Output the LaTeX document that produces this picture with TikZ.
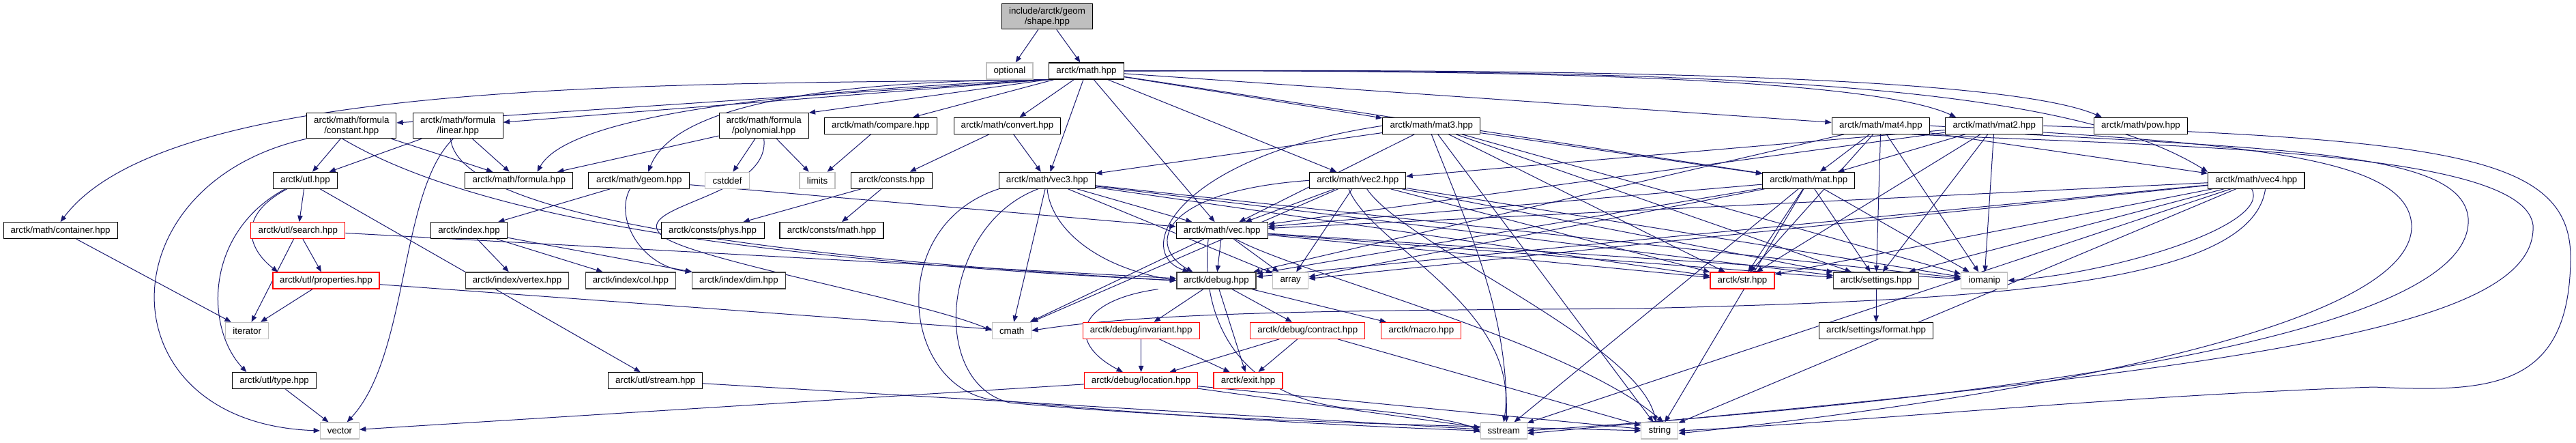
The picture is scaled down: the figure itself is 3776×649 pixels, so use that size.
\documentclass[tikz,border=0pt]{standalone}
\usepackage{fontspec}
\setmainfont{Liberation Sans}
\usetikzlibrary{arrows.meta}
\pgfdeclarelayer{bg}
\pgfdeclarelayer{paper}
\pgfsetlayers{paper,bg,main}
\definecolor{edgeblue}{HTML}{191970}
\definecolor{sysgray}{HTML}{BFBFBF}
\definecolor{darkline}{HTML}{404040}
\tikzset{
  fnode/.style={draw=black, line width=0.8pt, fill=white, inner sep=0pt, minimum height=18pt, align=center, font=\fontsize{10}{11}\selectfont},
  twoline/.style={minimum height=27.75pt},
  sysnode/.style={fnode, draw=sysgray},
  trunc/.style={fnode, draw=red},
  darknode/.style={fnode, draw=darkline, line width=1pt},
  rootnode/.style={fnode, fill=sysgray, twoline},
  dep/.style={draw=edgeblue, line width=0.75pt, -{Triangle[length=7pt,width=5.5pt]}},
}
\begin{document}
\begin{tikzpicture}[x=0.75pt,y=-0.75pt]
\begin{pgfonlayer}{paper}
\fill[white] (0,0) rectangle (3776,649);
\end{pgfonlayer}
\useasboundingbox (0,0) rectangle (3776,649);
% row 1-2
\node[rootnode, minimum width=99.75pt] (shape) at (1535,24.3) {include/arctk/geom\\/shape.hpp};
\node[sysnode, minimum width=51pt] (optional) at (1480,104) {optional};
\node[fnode, minimum width=82.5pt] (math) at (1592.5,104) {arctk/math.hpp};
% row 3
\node[fnode, twoline, minimum width=98.25pt] (constant) at (515.3,184.3) {arctk/math/formula\\/constant.hpp};
\node[fnode, twoline, minimum width=99pt] (linear) at (671.2,184.3) {arctk/math/formula\\/linear.hpp};
\node[fnode, twoline, minimum width=98.25pt] (polynomial) at (1119.7,184.3) {arctk/math/formula\\/polynomial.hpp};
\node[fnode, minimum width=123.75pt] (compare) at (1291,184.3) {arctk/math/compare.hpp};
\node[fnode, minimum width=117pt] (convert) at (1476.5,184.3) {arctk/math/convert.hpp};
\node[fnode, minimum width=107.25pt] (mat3) at (2098.3,184.3) {arctk/math/mat3.hpp};
\node[fnode, minimum width=107.6pt] (mat4) at (2756.9,184.3) {arctk/math/mat4.hpp};
\node[fnode, minimum width=107.25pt] (mat2) at (2923.3,184.3) {arctk/math/mat2.hpp};
\node[fnode, minimum width=102.75pt] (pow) at (3138,184.3) {arctk/math/pow.hpp};
% row 4
\node[fnode, minimum width=70.5pt] (utl) at (447.4,264.3) {arctk/utl.hpp};
\node[fnode, minimum width=118.5pt] (formula) at (760.8,264.3) {arctk/math/formula.hpp};
\node[fnode, minimum width=111pt] (geom) at (936.8,264.3) {arctk/math/geom.hpp};
\node[sysnode, minimum width=48.75pt] (cstddef) at (1066,264.3) {cstddef};
\node[sysnode, minimum width=39pt] (limits) at (1198,264.3) {limits};
\node[fnode, minimum width=89.25pt] (consts) at (1307,264.3) {arctk/consts.hpp};
\node[fnode, minimum width=105.75pt] (vec3) at (1535,264.3) {arctk/math/vec3.hpp};
\node[fnode, minimum width=105.75pt] (vec2) at (1990.3,264.3) {arctk/math/vec2.hpp};
\node[fnode, minimum width=101.25pt] (mat) at (2651.3,264.3) {arctk/math/mat.hpp};
\node[fnode, minimum width=106pt] (vec4) at (3307.3,264.3) {arctk/math/vec4.hpp};
% row 5
\node[fnode, minimum width=125.25pt] (container) at (88.6,337.7) {arctk/math/container.hpp};
\node[trunc, minimum width=103.5pt] (search) at (436.9,337.7) {arctk/utl/search.hpp};
\node[fnode, minimum width=84pt] (index) at (687.5,337.7) {arctk/index.hpp};
\node[fnode, minimum width=113.25pt] (phys) at (1044.6,337.7) {arctk/consts/phys.hpp};
\node[fnode, minimum width=114pt] (cmathc) at (1219,337.7) {arctk/consts/math.hpp};
\node[fnode, minimum width=100.5pt] (vec) at (1791.2,337.7) {arctk/math/vec.hpp};
% row 6
\node[trunc, minimum width=117pt] (properties) at (478,411) {arctk/utl/properties.hpp};
\node[darknode, minimum width=113.25pt] (vertex) at (758,411) {arctk/index/vertex.hpp};
\node[darknode, minimum width=99pt] (col) at (924.4,411) {arctk/index/col.hpp};
\node[darknode, minimum width=102.75pt] (dim) at (1083,411) {arctk/index/dim.hpp};
\node[darknode, minimum width=87pt] (debug) at (1782.9,411) {arctk/debug.hpp};
\node[sysnode, minimum width=39pt] (array) at (1891.7,411) {array};
\node[trunc, minimum width=70.5pt] (str) at (2554,411) {arctk/str.hpp};
\node[darknode, minimum width=93.75pt] (settings) at (2750.1,411) {arctk/settings.hpp};
\node[sysnode, minimum width=51pt] (iomanip) at (2908.7,411) {iomanip};
% row 7
\node[sysnode, minimum width=47pt] (iterator) at (362.2,484.3) {iterator};
\node[sysnode, minimum width=42.75pt] (cmath) at (1483.2,484.3) {cmath};
\node[trunc, minimum width=128.25pt] (invariant) at (1672.6,484.3) {arctk/debug/invariant.hpp};
\node[trunc, minimum width=126pt] (contract) at (1916.8,484.3) {arctk/debug/contract.hpp};
\node[trunc, minimum width=87.75pt] (macro) at (2083.4,484.3) {arctk/macro.hpp};
\node[fnode, minimum width=125.25pt] (format) at (2750.1,484.3) {arctk/settings/format.hpp};
% row 8
\node[fnode, minimum width=92.25pt] (type) at (402.1,557.7) {arctk/utl/type.hpp};
\node[fnode, minimum width=103.5pt] (stream) at (960.7,557.7) {arctk/utl/stream.hpp};
\node[trunc, minimum width=124.5pt] (location) at (1672.6,557.7) {arctk/debug/location.hpp};
\node[trunc, minimum width=75.75pt] (exit) at (1829.5,557.7) {arctk/exit.hpp};
% row 9
\node[sysnode, minimum width=42.75pt] (vector) at (498,631) {vector};
\node[sysnode, minimum width=51pt] (sstream) at (2204.2,631) {sstream};
\node[sysnode, minimum width=40.5pt] (string) at (2432.9,631) {string};

\begin{pgfonlayer}{bg}
\foreach \a/\b in {shape/optional, shape/math,
  math/compare, math/convert, math/vec3, math/vec, math/vec2, math/mat3, math/mat, math/mat4,
  container/iterator,
  constant/utl, constant/formula, linear/utl, linear/formula,
  polynomial/formula, polynomial/cstddef, polynomial/limits,
  compare/limits, convert/consts, convert/vec3,
  utl/search, utl/stream, search/iterator, search/properties, search/debug, properties/iterator, properties/cmath,
  type/vector, geom/index, geom/vec, index/vertex, index/col, index/dim,
  consts/phys, consts/cmathc,
  vec3/vec, vec3/cmath, vec3/array, vec3/str, vec3/settings, vec3/iomanip,
  vec2/vec, vec2/cmath, vec2/array, vec2/str, vec2/settings, vec2/iomanip,
  vec/debug, vec/cmath, vec/array, vec/str, vec/settings, vec/iomanip,
  mat/vec, mat/debug, mat/array, mat/str, mat/settings, mat/iomanip, mat/sstream, mat/string,
  mat3/mat, mat3/vec3, mat3/vec, mat3/str, mat3/settings, mat3/iomanip, mat3/string,
  mat4/mat, mat4/vec4, mat4/debug, mat4/str, mat4/settings, mat4/iomanip,
  mat2/mat, mat2/vec2, mat2/vec, mat2/str, mat2/settings, mat2/iomanip,
  vec4/vec, vec4/debug, vec4/array, vec4/str, vec4/settings, vec4/sstream, vec4/string,
  debug/invariant, debug/exit, debug/contract, debug/macro,
  invariant/location, invariant/exit, contract/location, contract/exit, contract/string,
  location/vector, location/sstream, location/string,
  settings/format, stream/sstream}
  \draw[dep] (\a) -- (\b);
% connectors leaving the lower left corner of math.hpp
\draw[dep] (math.south west) -- (constant);
\draw[dep] (math.south west) -- (linear);
\draw[dep] (math.south west) -- (polynomial.north east);
% curved connectors
\draw[dep] (math.south west) .. controls (1000,125) and (250,110) .. (container.north);
\draw[dep] (math.south west) .. controls (1100,135) and (830,175) .. ([xshift=20pt]formula.north);
\draw[dep] (math.south west) .. controls (1230,118) and (990,150) .. ([xshift=10pt]geom.north);
\draw[dep] (math.east) .. controls (2300,102) and (2750,118) .. ([xshift=12pt]mat2.north west);
\draw[dep] (math.east) .. controls (2400,100) and (2950,115) .. ([xshift=9pt]pow.north west);
\draw[dep] (math.east) .. controls (2600,100) and (3040,130) .. (vec4.north west);
\draw[dep] (constant.south west) .. controls (150,270) and (150,620) .. (vector.west);
\draw[dep] (linear.250) .. controls (585,280) and (600,520) .. ([xshift=8pt]vector.north);
\draw[dep] ([xshift=-10pt]constant.south) .. controls (700,320) and (1100,380) .. (debug.west);
\draw[dep] ([xshift=-8pt]linear.south) .. controls (670,300) and (1000,370) .. (debug.west);
\draw[dep] ([xshift=-20pt]utl.south) .. controls (340,320) and (370,370) .. ([xshift=6pt]properties.north west);
\draw[dep] ([xshift=-22pt]utl.south) .. controls (300,340) and (300,480) .. ([xshift=16pt]type.north west);
\draw[dep] (polynomial.south) .. controls (1130,290) and (920,300) .. (970,345) .. controls (1010,380) and (1350,440) .. (cmath.west);
\draw[dep] ([xshift=-10pt]geom.south) .. controls (900,320) and (940,390) .. (dim.north west);
\draw[dep] (vec3.south) .. controls (1540,330) and (1600,390) .. (debug.west);
\draw[dep] (vec2.west) .. controls (1700,280) and (1680,360) .. ([xshift=18pt]debug.north west);
\draw[dep] (mat3.west) .. controls (1720,230) and (1660,370) .. ([xshift=14pt]debug.north west);
\draw[dep] (vec3.south west) .. controls (1300,330) and (1320,560) .. (1450,585) .. controls (1700,610) and (2000,625) .. (sstream.west);
\draw[dep] ([xshift=-10pt]vec3.south) .. controls (1380,330) and (1360,560) .. (1480,590) .. controls (1800,620) and (2200,625) .. (string.west);
\draw[dep] ([xshift=-10pt]vec2.south) .. controls (2010,360) and (2230,450) .. (sstream.north);
\draw[dep] ([xshift=10pt]vec2.south) .. controls (2060,360) and (2400,500) .. ([xshift=-4pt]string.north);
\draw[dep] ([xshift=-15pt]vec.south) .. controls (1760,450) and (1800,590) .. (2000,600) .. controls (2100,610) and (2150,620) .. ([yshift=-2pt]sstream.west);
\draw[dep] ([xshift=15pt]vec.south) .. controls (1900,400) and (2300,500) .. ([xshift=4pt]string.north);
\draw[dep] (mat3.south) .. controls (2150,330) and (2210,450) .. ([xshift=3pt]sstream.north);
\draw[dep] (mat2.east) .. controls (3600,205) and (3770,230) .. (3768,380) .. controls (3766,570) and (3650,575) .. (3480,567) .. controls (3100,580) and (2700,620) .. (string.east);
\draw[dep] ([xshift=-20pt]mat2.south east) .. controls (3400,220) and (3610,230) .. (3618,320) .. controls (3630,520) and (2700,600) .. (sstream.east);
\draw[dep] ([xshift=-20pt]mat4.south east) .. controls (3200,215) and (3700,220) .. (3713,330) .. controls (3720,480) and (3300,540) .. ([yshift=-3pt]sstream.east);
\draw[dep] (mat4.east) .. controls (3300,210) and (3530,230) .. (3535,330) .. controls (3540,500) and (2800,600) .. ([yshift=-3pt]string.east);
\draw[dep] ([xshift=-5pt]vec4.south) .. controls (3330,330) and (3100,400) .. (iomanip.east);
\draw[dep] ([xshift=10pt]vec4.south) .. controls (3300,420) and (2900,440) .. (2400,452) .. controls (2000,455) and (1700,455) .. (cmath.east);
\draw[dep] ([xshift=-20pt]debug.south west) .. controls (1580,440) and (1560,500) .. ([xshift=-20pt]location.north);
\end{pgfonlayer}
\end{tikzpicture}
\end{document}
